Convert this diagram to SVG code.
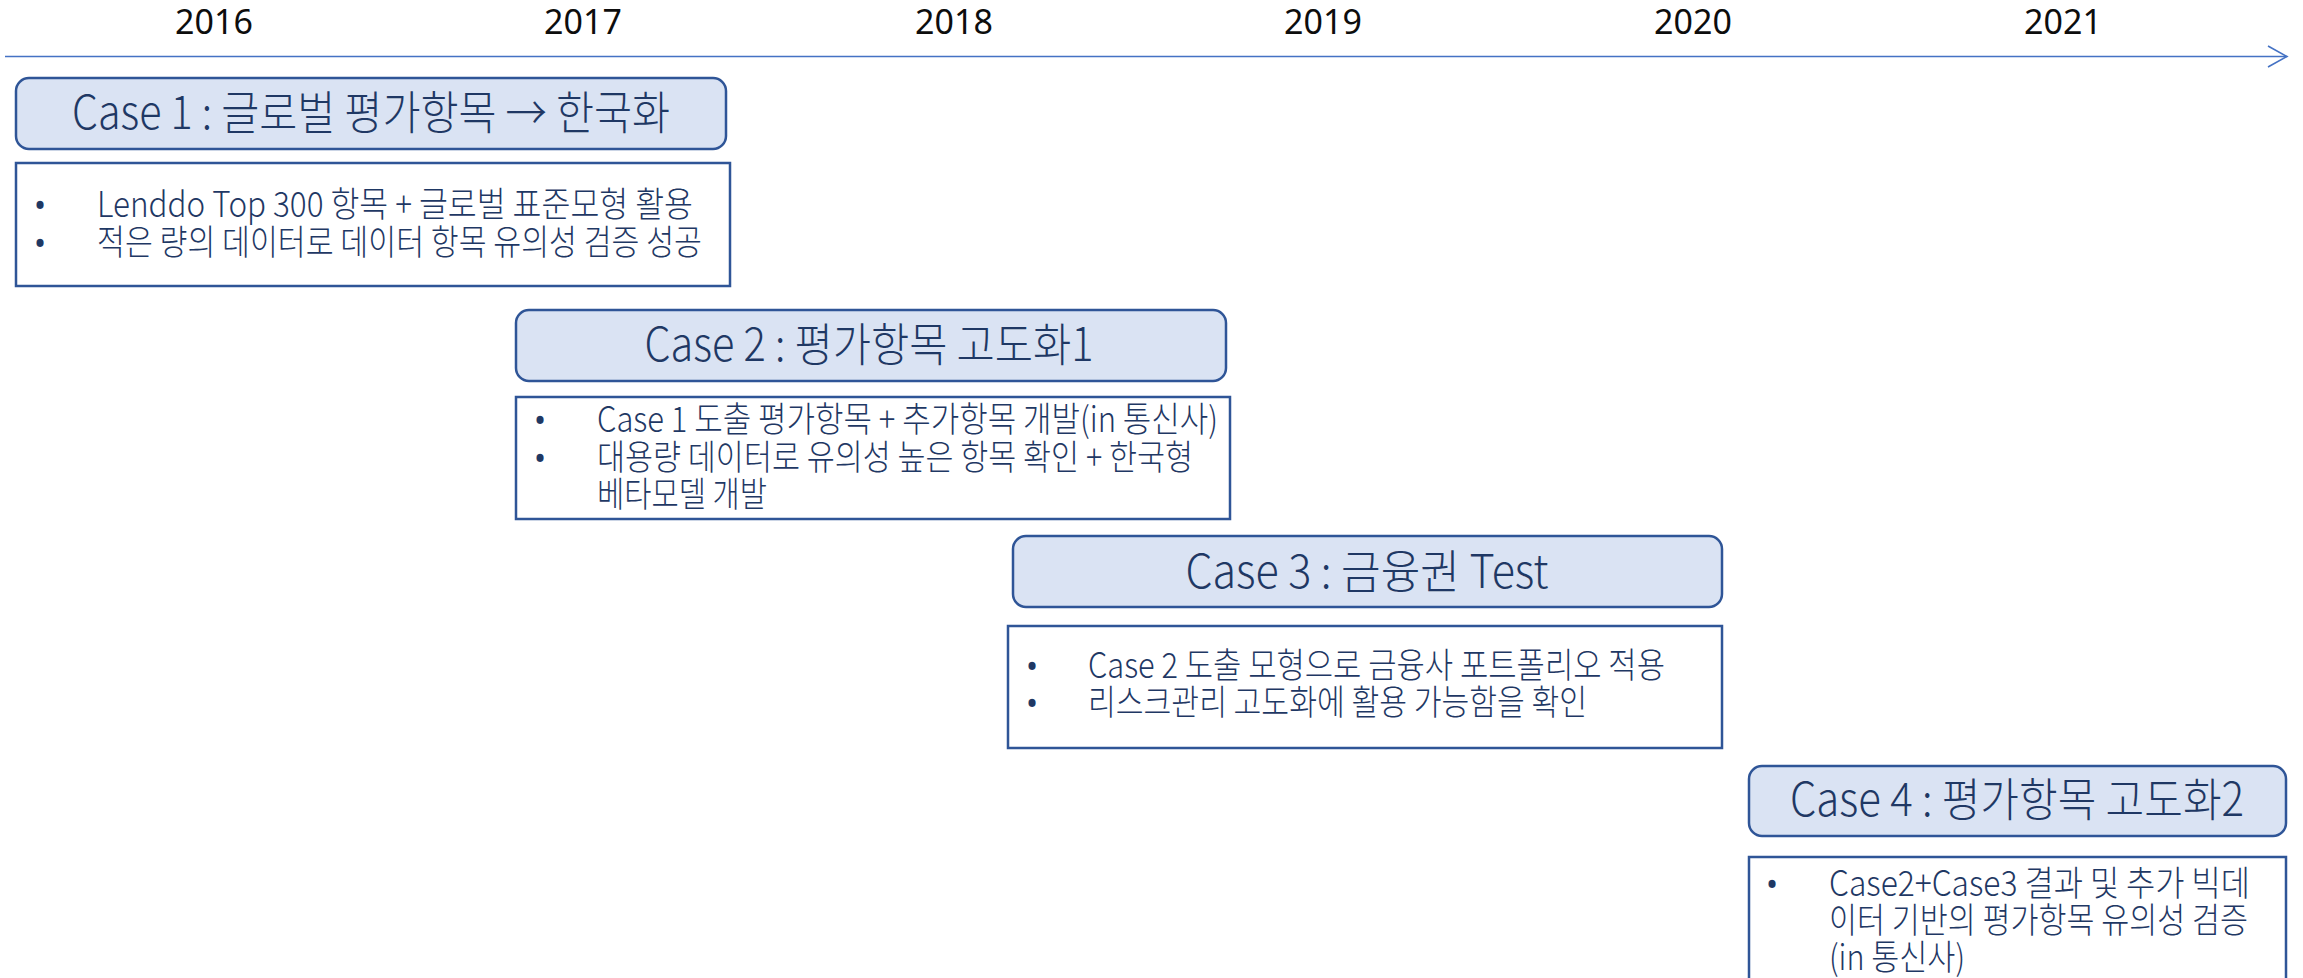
<svg xmlns="http://www.w3.org/2000/svg" width="2303" height="978" viewBox="0 0 2303 978">
<defs>
<style>
.year{font-family:"Noto Sans","Open Sans","Noto Sans CJK KR",sans-serif;font-size:34px;fill:#0d0d0d;text-anchor:middle}
.hdr{fill:#dae3f3;stroke:#2f5597;stroke-width:2.5}
.det{fill:#ffffff;stroke:#2f5597;stroke-width:2.5}
.ttl{font-family:"Noto Sans CJK KR","Noto Sans",sans-serif;font-size:46px;font-weight:300;fill:#1f3864;text-anchor:middle}
.txt{font-family:"Noto Sans CJK KR","Noto Sans",sans-serif;font-size:35px;font-weight:300;fill:#1f3864}
.bul{font-family:"Noto Sans","Noto Sans CJK KR",sans-serif;font-size:32px;fill:#1f3864;text-anchor:middle}
.axis{stroke:#4472c4;stroke-width:1.6;fill:none}
</style>
<marker id="open" markerUnits="userSpaceOnUse" viewBox="0 0 22 24" refX="20" refY="12" markerWidth="22" markerHeight="24" orient="auto">
<path d="M1,1.5 L20,12 L1,22.5" fill="none" stroke="#4472c4" stroke-width="1.6"/>
</marker>
</defs>
<rect width="2303" height="978" fill="#ffffff"/>

<g id="connectors">
<line class="axis" x1="5" y1="56.5" x2="2287" y2="56.5" marker-end="url(#open)"/>
</g>

<g id="years">
<text class="year" x="214" y="34">2016</text>
<text class="year" x="583" y="34">2017</text>
<text class="year" x="954" y="34">2018</text>
<text class="year" x="1323" y="34">2019</text>
<text class="year" x="1693" y="34">2020</text>
<text class="year" x="2063" y="34">2021</text>
</g>

<g id="case1">
<rect class="hdr" x="16" y="78" width="710" height="71" rx="13"/>
<text class="ttl" x="371" y="129" textLength="598" lengthAdjust="spacingAndGlyphs">Case 1 : 글로벌 평가항목 → 한국화</text>
</g>
<g id="case1-detail">
<rect class="det" x="16" y="163" width="714" height="123"/>
<text class="bul" x="40" y="217">•</text>
<text class="txt" x="97" y="217" textLength="596" lengthAdjust="spacingAndGlyphs">Lenddo Top 300 항목 + 글로벌 표준모형 활용</text>
<text class="bul" x="40" y="255">•</text>
<text class="txt" x="97" y="255" textLength="605" lengthAdjust="spacingAndGlyphs">적은 량의 데이터로 데이터 항목 유의성 검증 성공</text>
</g>

<g id="case2">
<rect class="hdr" x="516" y="310" width="710" height="71" rx="13"/>
<text class="ttl" x="869" y="361" textLength="449" lengthAdjust="spacingAndGlyphs">Case 2 : 평가항목 고도화1</text>
</g>
<g id="case2-detail">
<rect class="det" x="516" y="397" width="714" height="122"/>
<text class="bul" x="540" y="432">•</text>
<text class="txt" x="597" y="432" textLength="621" lengthAdjust="spacingAndGlyphs">Case 1 도출 평가항목 + 추가항목 개발(in 통신사)</text>
<text class="bul" x="540" y="470">•</text>
<text class="txt" x="597" y="470" textLength="596" lengthAdjust="spacingAndGlyphs">대용량 데이터로 유의성 높은 항목 확인 + 한국형</text>
<text class="txt" x="597" y="507" textLength="170" lengthAdjust="spacingAndGlyphs">베타모델 개발</text>
</g>

<g id="case3">
<rect class="hdr" x="1013" y="536" width="709" height="71" rx="13"/>
<text class="ttl" x="1367" y="588" textLength="363" lengthAdjust="spacingAndGlyphs">Case 3 : 금융권 Test</text>
</g>
<g id="case3-detail">
<rect class="det" x="1008" y="626" width="714" height="122"/>
<text class="bul" x="1032" y="678">•</text>
<text class="txt" x="1088" y="678" textLength="577" lengthAdjust="spacingAndGlyphs">Case 2 도출 모형으로 금융사 포트폴리오 적용</text>
<text class="bul" x="1032" y="715">•</text>
<text class="txt" x="1088" y="715" textLength="499" lengthAdjust="spacingAndGlyphs">리스크관리 고도화에 활용 가능함을 확인</text>
</g>

<g id="case4">
<rect class="hdr" x="1749" y="766" width="537" height="70" rx="13"/>
<text class="ttl" x="2017" y="816" textLength="454" lengthAdjust="spacingAndGlyphs">Case 4 : 평가항목 고도화2</text>
</g>
<g id="case4-detail">
<rect class="det" x="1749" y="857" width="537" height="140"/>
<text class="bul" x="1772" y="896">•</text>
<text class="txt" x="1829" y="896" textLength="421" lengthAdjust="spacingAndGlyphs">Case2+Case3 결과 및 추가 빅데</text>
<text class="txt" x="1829" y="933" textLength="419" lengthAdjust="spacingAndGlyphs">이터 기반의 평가항목 유의성 검증</text>
<text class="txt" x="1829" y="970" textLength="136" lengthAdjust="spacingAndGlyphs">(in 통신사)</text>
</g>
</svg>
